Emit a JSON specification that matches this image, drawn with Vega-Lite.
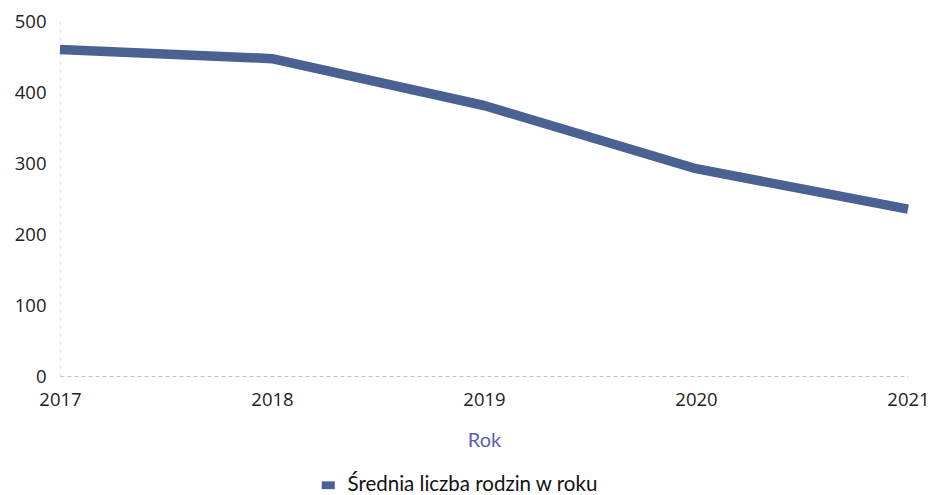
{
  "$schema": "https://vega.github.io/schema/vega-lite/v6.json",
  "autosize": "none",
  "width": 848,
  "height": 355,
  "padding": {"left": 60, "top": 21, "right": 25, "bottom": 119},
  "background": "white",
  "data": {
    "values": [
      {"Rok": "2017", "value": 460, "series": "Średnia liczba rodzin w roku"},
      {"Rok": "2018", "value": 447, "series": "Średnia liczba rodzin w roku"},
      {"Rok": "2019", "value": 381, "series": "Średnia liczba rodzin w roku"},
      {"Rok": "2020", "value": 292, "series": "Średnia liczba rodzin w roku"},
      {"Rok": "2021", "value": 235, "series": "Średnia liczba rodzin w roku"}
    ]
  },
  "mark": {"type": "line", "strokeWidth": 9.5, "strokeCap": "butt", "strokeJoin": "round"},
  "encoding": {
    "x": {
      "field": "Rok", "type": "ordinal",
      "scale": {"type": "point", "padding": 0},
      "axis": {
        "title": "Rok", "labelAngle": 0, "labelFont": "Open Sans", "labelFontSize": 18.5, "labelColor": "#222",
        "labelPadding": 14, "ticks": false, "domain": true, "domainColor": "#999", "domainDash": [4, 3], "domainWidth": 1, "domainOpacity": 0.6,
        "grid": false, "titleFont": "Lato", "titleFontSize": 20, "titleFontWeight": "normal", "titleColor": "#5a62b8", "titlePadding": 22,
        "labelFlush": false
      }
    },
    "y": {
      "field": "value", "type": "quantitative",
      "scale": {"domain": [0, 500]},
      "axis": {
        "title": null, "values": [0, 100, 200, 300, 400, 500], "labelFont": "Open Sans", "labelFontSize": 18.5, "labelColor": "#222",
        "labelPadding": 14, "ticks": false, "domain": true, "domainColor": "#bbb", "domainDash": [3, 5], "domainOpacity": 0.5,
        "grid": false
      }
    },
    "color": {
      "field": "series", "type": "nominal",
      "scale": {"range": ["#4a6291"]},
      "legend": {
        "title": null, "orient": "none", "legendX": 258, "legendY": 454,
        "labelFont": "Lato", "labelFontSize": 20.5, "labelColor": "#111", "labelLimit": 500,
        "symbolType": "M-1,-0.6H1V0.6H-1Z", "symbolSize": 170, "symbolStrokeWidth": 0,
        "symbolFillColor": "#4a6291", "labelOffset": 9,
        "encode": {"symbols": {"update": {"fill": {"value": "#4a6291"}, "strokeWidth": {"value": 0}}}}
      }
    }
  },
  "config": {"view": {"stroke": null}}
}
